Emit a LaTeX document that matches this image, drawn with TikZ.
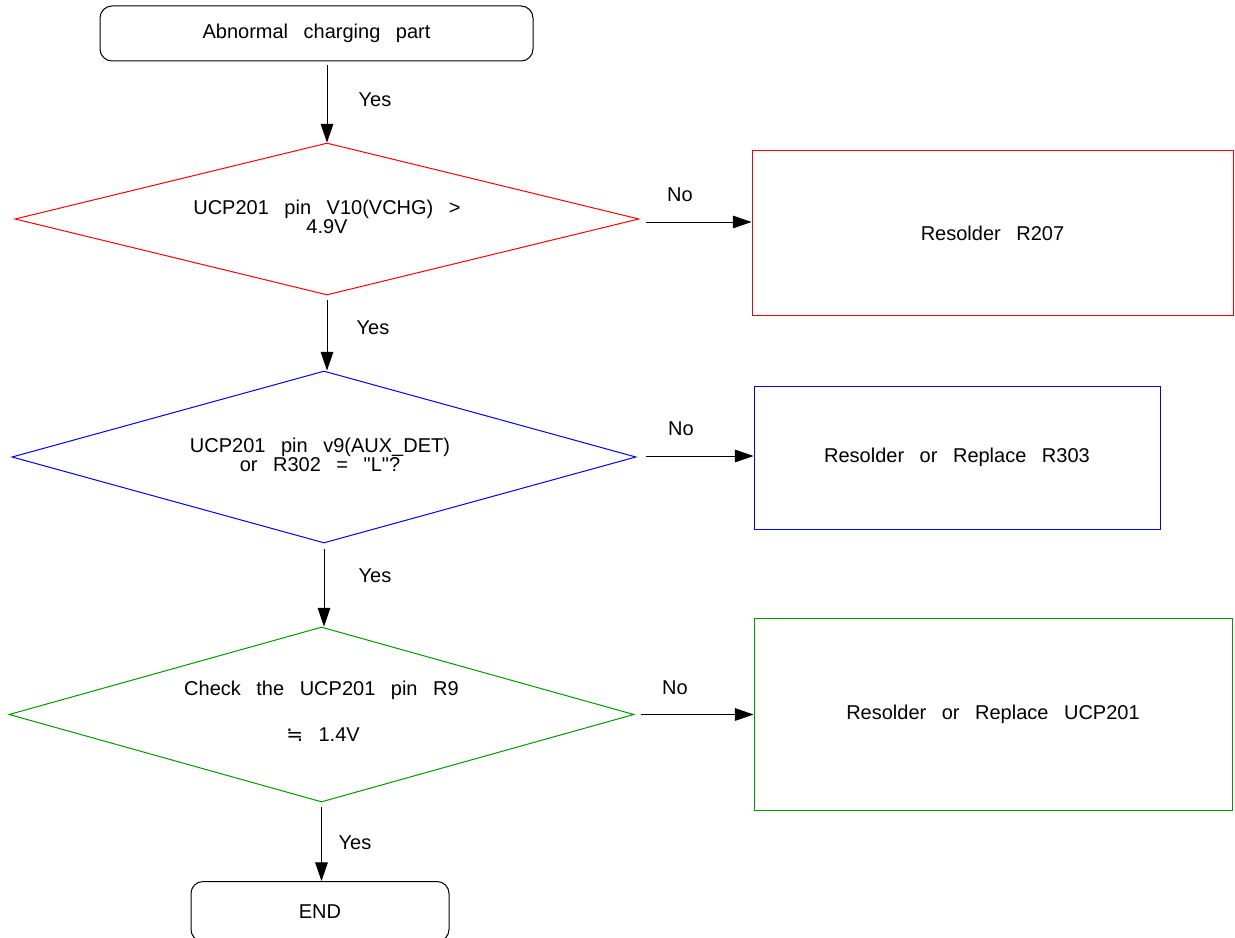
\documentclass[tikz,border=0pt]{standalone}
\usepackage{fontspec}
\setmainfont[WordSpace=2.8]{Liberation Sans}
\newfontfamily\symfont{DejaVu Sans}
\usetikzlibrary{shapes.geometric,arrows.meta}
\definecolor{fgreen}{RGB}{0,153,0}
\tikzset{
  base/.style={line width=0.75pt, inner sep=0pt, font=\fontsize{15}{14.5}\selectfont},
  termbox/.style={base, draw=black, rounded corners=9pt},
  decbox/.style={base, draw, shape=diamond},
  actbox/.style={base, draw, rectangle},
  txt/.style={font=\fontsize{15}{14.5}\selectfont, inner sep=0pt, align=center},
  arr/.style={line width=0.75pt, -{Triangle[length=14pt,width=9.5pt]}},
}
\begin{document}
\begin{tikzpicture}[x=0.75pt,y=-0.75pt]
\useasboundingbox (0,0) rectangle (1235,938);

% start / end
\node[termbox, minimum width=433*0.75pt, minimum height=55*0.75pt] (start) at (316.5,33.5) {Abnormal charging part};
\node[termbox, minimum width=258*0.75pt, minimum height=60*0.75pt, anchor=north] (stop) at (320,881) {END};

% decisions
\node[decbox, draw=red, minimum width=624*0.75pt, minimum height=152*0.75pt] (d1) at (327,219) {};
\node[txt] (t1) at (327,217) {UCP201 pin V10(VCHG) >\\4.9V};

\node[decbox, draw=blue, minimum width=624*0.75pt, minimum height=172*0.75pt] (d2) at (324,457) {};
\node[txt] (t2) at (320,455) {UCP201 pin v9(AUX\_DET)\\or R302 = \textquotedbl L\textquotedbl ?};

\node[decbox, draw=fgreen, minimum width=625*0.75pt, minimum height=175*0.75pt] (d3) at (321.5,714.5) {};
\node[txt] (t3a) at (321.5,690.5) {Check the UCP201 pin R9};
\node[txt] (t3b) at (323,735) {{\symfont ≒} 1.4V};

% actions
\node[actbox, draw=red, minimum width=481*0.75pt, minimum height=164*0.75pt] (r1) at (992.5,233) {Resolder R207};
\node[actbox, draw=blue, minimum width=406*0.75pt, minimum height=143*0.75pt] (r2) at (957,457.5) {Resolder or Replace R303};
\node[actbox, draw=fgreen, minimum width=478*0.75pt, minimum height=192*0.75pt] (r3) at (993,714) {Resolder or Replace UCP201};

% vertical connectors
\draw[arr] ([yshift=-4*0.75pt]start.south -| d1.north) -- (d1.north);
\node[txt] (y1) at (375,100) {Yes};
\draw[arr] ([yshift=-4*0.75pt]d1.south) -- (d1.south |- d2.north);
\node[txt] (y2) at (373,328) {Yes};
\draw[arr] ([yshift=-5*0.75pt]d2.south) -- (d2.south |- d3.north);
\node[txt] (y3) at (375,576) {Yes};
\draw[arr] ([yshift=-4*0.75pt]d3.south) -- (d3.south |- stop.north);
\node[txt] (y4) at (355,843) {Yes};

% horizontal connectors
\draw[arr] ([xshift=6*0.75pt,yshift=-3*0.75pt]d1.east) -- ([yshift=-3*0.75pt]d1.east -| r1.west);
\node[txt] (n1) at (680,195) {No};
\draw[arr] ([xshift=9*0.75pt,yshift=1*0.75pt]d2.east) -- ([yshift=1*0.75pt]d2.east -| r2.west);
\node[txt] (n2) at (681,429) {No};
\draw[arr] ([xshift=6*0.75pt]d3.east) -- (d3.east -| r3.west);
\node[txt] (n3) at (675,688) {No};
\end{tikzpicture}
\end{document}
